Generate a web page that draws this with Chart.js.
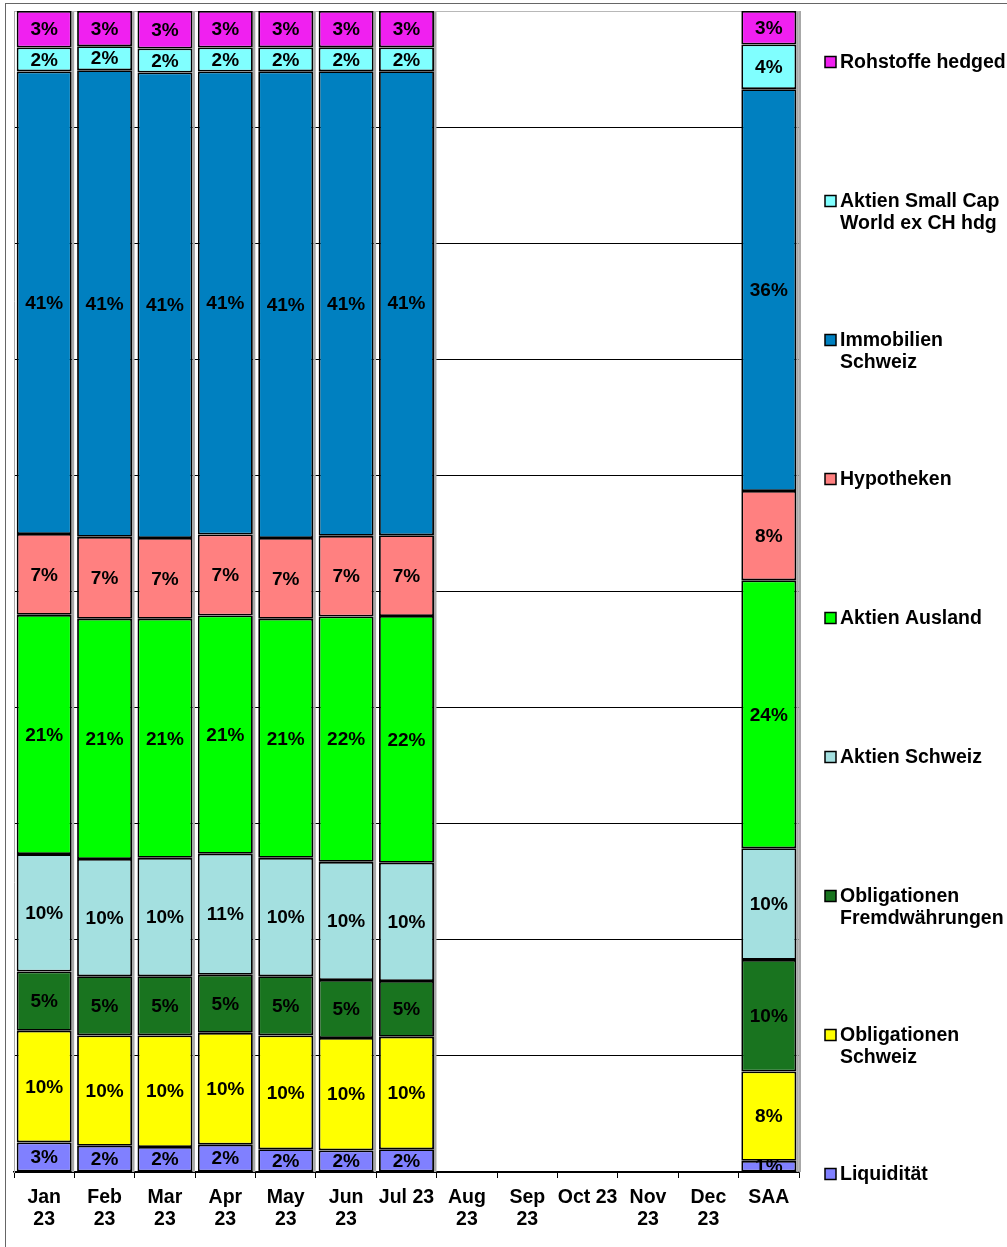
<!DOCTYPE html>
<html>
<head>
<meta charset="utf-8">
<script src="https://cdn.jsdelivr.net/npm/chart.js@4.4.1/dist/chart.umd.min.js"></script>
<style>
  body { margin: 0; background: #fff; }
  canvas { display: block; }
</style>
</head>
<body>
<canvas id="allocChart" width="1007" height="1247"></canvas>
<script>
// Kategorien (Monate + SAA)
const categories = [['Jan', '23'], ['Feb', '23'], ['Mar', '23'], ['Apr', '23'], ['May', '23'], ['Jun', '23'], 'Jul 23',
                    ['Aug', '23'], ['Sep', '23'], 'Oct 23', ['Nov', '23'], ['Dec', '23'], 'SAA'];

// Gewichte in % (Aug-Dec noch leer)
const liquiditaet    = [2.6, 2.3, 2.2, 2.4, 2.0, 1.9, 2.0, null, null, null, null, null, 1];
const obligSchweiz   = [9.8, 9.7, 9.8, 9.8, 10.0, 9.9, 9.9, null, null, null, null, null, 8];
const obligFremd     = [5.2, 5.2, 5.2, 5.1, 5.2, 5.1, 4.9, null, null, null, null, null, 10];
const aktienSchweiz  = [10.3, 10.3, 10.4, 10.6, 10.4, 10.4, 10.4, null, null, null, null, null, 10];
const aktienAusland  = [21.0, 21.1, 21.0, 20.9, 21.0, 21.6, 21.7, null, null, null, null, null, 24];
const hypotheken     = [7.1, 7.2, 7.1, 7.1, 7.1, 7.1, 7.1, null, null, null, null, null, 8];
const immobilien     = [40.6, 41.0, 40.9, 40.6, 41.0, 40.9, 40.8, null, null, null, null, null, 36];
const smallCap       = [2.1, 2.1, 2.1, 2.1, 2.1, 2.1, 2.1, null, null, null, null, null, 4];
const rohstoffe      = [3.2, 3.1, 3.3, 3.2, 3.2, 3.2, 3.2, null, null, null, null, null, 3];

const seriesNames = [
    ['Liquidität'],
    ['Obligationen', 'Schweiz'],
    ['Obligationen', 'Fremdwährungen'],
    ['Aktien Schweiz'],
    ['Aktien Ausland'],
    ['Hypotheken'],
    ['Immobilien', 'Schweiz'],
    ['Aktien Small Cap', 'World ex CH hdg'],
    ['Rohstoffe hedged']
];
const seriesValues = [liquiditaet, obligSchweiz, obligFremd, aktienSchweiz, aktienAusland,
                      hypotheken, immobilien, smallCap, rohstoffe];
const seriesColors = ['#8080ff', '#ffff00', '#19741f', '#a4e0e0', '#00ff00',
                      '#ff8080', '#0080c0', '#80ffff', '#f020f0'];

const FONT = '"Liberation Sans", Arial, Helvetica, sans-serif';

// 100%-Stapel: jede Säule auf ihre Summe normieren
const totals = categories.map((c, i) => {
    let s = 0, any = false;
    seriesValues.forEach(arr => { if (arr[i] != null) { s += arr[i]; any = true; } });
    return any ? s : null;
});

const datasets = seriesValues.map((arr, k) => ({
    label: seriesNames[k].join(' '),
    raw: arr,
    data: arr.map((v, i) => v == null ? null : v / totals[i] * 100),
    backgroundColor: seriesColors[k],
    borderColor: '#000',
    borderWidth: 1.8,
    borderSkipped: false,
    barPercentage: 0.91,
    categoryPercentage: 1.0
}));

// Rahmen + Schatten
const framePlugin = {
    id: 'frame',
    beforeDraw(chart) {
        const c = chart.ctx;
        c.save();
        c.fillStyle = '#fff';
        c.fillRect(0, 0, chart.width, chart.height);
        c.strokeStyle = '#666';
        c.lineWidth = 1;
        c.strokeRect(5.5, 3.5, chart.width + 10, chart.height + 10);
        c.restore();
    },
    beforeDatasetsDraw(chart) {
        const c = chart.ctx, a = chart.chartArea;
        c.save();
        c.fillStyle = '#a8a8a8';
        c.fillRect(a.right, a.top, 2, a.bottom - a.top);
        const meta = chart.getDatasetMeta(chart.data.datasets.length - 1);
        meta.data.forEach((bar, i) => {
            if (totals[i] == null) return;
            c.fillRect(bar.x + bar.width / 2, a.top + 1, 2.5, a.bottom - a.top - 1);
        });
        c.restore();
    }
};

// Prozent-Beschriftung in den Segmenten
const labelPlugin = {
    id: 'segLabels',
    afterDatasetsDraw(chart) {
        const c = chart.ctx, a = chart.chartArea;
        c.save();
        c.beginPath();
        c.rect(a.left, a.top, a.right - a.left, a.bottom - a.top);
        c.clip();
        c.font = 'bold 19px ' + FONT;
        c.textAlign = 'center';
        c.textBaseline = 'middle';
        c.fillStyle = '#000';
        chart.data.datasets.forEach((ds, di) => {
            chart.getDatasetMeta(di).data.forEach((bar, i) => {
                const v = ds.raw[i];
                if (v == null) return;
                c.fillText(Math.round(v) + '%', bar.x, (bar.y + bar.base) / 2 + 1);
            });
        });
        c.restore();
    }
};

// Legende rechts (mehrzeilig)
const legendPlugin = {
    id: 'sideLegend',
    afterDraw(chart) {
        const c = chart.ctx;
        const n = seriesNames.length;
        c.save();
        c.font = 'bold 19.5px ' + FONT;
        c.textAlign = 'left';
        c.textBaseline = 'middle';
        for (let k = 0; k < n; k++) {
            const idx = n - 1 - k;
            const y = 62 + k * 139;
            c.fillStyle = seriesColors[idx];
            c.fillRect(825, y - 5.5, 11, 11);
            c.strokeStyle = '#000';
            c.lineWidth = 1.5;
            c.strokeRect(825, y - 5.5, 11, 11);
            c.fillStyle = '#000';
            seriesNames[idx].forEach((line, j) => c.fillText(line, 840, y + 1 + j * 22));
        }
        c.restore();
    }
};

new Chart(document.getElementById('allocChart').getContext('2d'), {
    type: 'bar',
    data: { labels: categories, datasets: datasets },
    options: {
        responsive: false,
        animation: false,
        layout: { padding: { left: 14, right: 208, top: 11, bottom: 0 } },
        plugins: { legend: { display: false }, tooltip: { enabled: false } },
        scales: {
            x: {
                stacked: true,
                grid: { offset: true, drawOnChartArea: false, color: '#000', tickLength: 6, tickWidth: 1 },
                border: { color: '#000', width: 1.5 },
                ticks: {
                    color: '#000',
                    font: { family: FONT, size: 19.5, weight: 'bold', lineHeight: 1.1 },
                    padding: 9,
                    maxRotation: 0,
                    autoSkip: false
                },
                afterFit: s => { s.height = 75; }
            },
            y: {
                stacked: true,
                min: 0,
                max: 100,
                ticks: { display: false, stepSize: 10 },
                grid: {
                    color: c => c.tick.value === 100 ? '#b8b8b8' : '#000',
                    lineWidth: 1,
                    drawTicks: false
                },
                border: { color: '#a8a8a8', width: 1 },
                afterFit: s => { s.width = 0; }
            }
        }
    },
    plugins: [framePlugin, labelPlugin, legendPlugin]
});
</script>
</body>
</html>
